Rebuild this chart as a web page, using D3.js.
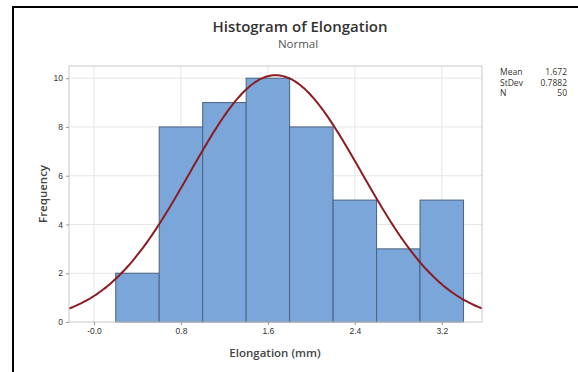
<!DOCTYPE html>
<meta charset="utf-8">
<script src="https://d3js.org/d3.v7.min.js"></script>
<style>
body { margin: 0; background: #fff; }
svg { font-family: "Open Sans", "Noto Sans", sans-serif; }
.grid line { stroke: #e6e6e6; stroke-width: 1px; }
.axis path { display: none; }
.axis line { stroke: #999; }
.axis text { font-size: 8.5px; fill: #333; }
</style>
<body></body>
<script>

// histogram bins (lower edges) and counts
var binStart = [0.2, 0.6, 1.0, 1.4, 1.8, 2.2, 2.6, 3.0];
var binWidth = 0.4;
var counts = [2, 8, 9, 10, 8, 5, 3, 5];

var xTicks = [0, 0.8, 1.6, 2.4, 3.2];
var xTickLabels = ['-0.0', '0.8', '1.6', '2.4', '3.2'];
var yTicks = [0, 2, 4, 6, 8, 10];

var statNames = ['Mean', 'StDev', 'N'];
var statValues = ['1.672', '0.7882', '50'];
var mean = 1.672, sd = 0.7882, n = 50;

var margin = {top: 66, left: 69};
var width = 482 - 69, height = 322 - 66;

var svg = d3.select('body').append('svg')
    .attr('width', 578)
    .attr('height', 372);

// black frame lines (left + top)
svg.append('line').attr('x1', 13).attr('x2', 13).attr('y1', 6).attr('y2', 372)
  .attr('stroke', '#000').attr('stroke-width', 2);
svg.append('line').attr('x1', 12).attr('x2', 578).attr('y1', 7).attr('y2', 7)
  .attr('stroke', '#000').attr('stroke-width', 2);

var g = svg.append('g')
    .attr('transform', 'translate(' + margin.left + ',' + margin.top + ')');

var xScale = d3.scaleLinear().domain([-0.23, 3.57]).range([0, width]);
var yScale = d3.scaleLinear().domain([0, 10.5]).range([height, 0]);

// grid
g.append('g').attr('class', 'grid')
  .selectAll('line.v').data(xTicks).enter().append('line')
  .attr('x1', d => xScale(d)).attr('x2', d => xScale(d))
  .attr('y1', 0).attr('y2', height);
g.append('g').attr('class', 'grid')
  .selectAll('line.h').data(yTicks.slice(1)).enter().append('line')
  .attr('x1', 0).attr('x2', width)
  .attr('y1', d => yScale(d)).attr('y2', d => yScale(d));

// bars
g.selectAll('.bar')
  .data(binStart).enter().append('rect')
  .attr('class', 'bar')
  .attr('x', d => xScale(d))
  .attr('width', d => xScale(d + binWidth) - xScale(d))
  .attr('y', (d, i) => yScale(counts[i]))
  .attr('height', (d, i) => height - yScale(counts[i]))
  .attr('fill', '#7ba6da')
  .attr('stroke', '#4a6281')
  .attr('stroke-width', 1);

// normal curve
var pts = d3.range(-0.23, 3.5701, 0.02);
var line = d3.line()
  .x(d => xScale(d))
  .y(d => yScale(n * binWidth * Math.exp(-0.5 * Math.pow((d - mean) / sd, 2)) / (sd * Math.sqrt(2 * Math.PI))))
  .curve(d3.curveBasis);
g.append('path').datum(pts)
  .attr('d', line)
  .attr('fill', 'none')
  .attr('stroke', '#8b1c22')
  .attr('stroke-width', 2);

// plot frame
g.append('rect')
  .attr('width', width).attr('height', height)
  .attr('fill', 'none').attr('stroke', '#c8c8c8');

// axes
g.append('g').attr('class', 'axis')
  .attr('transform', 'translate(0,' + height + ')')
  .call(d3.axisBottom(xScale).tickValues(xTicks).tickSize(3).tickPadding(3)
    .tickFormat((d, i) => xTickLabels[i]));

g.append('g').attr('class', 'axis')
  .call(d3.axisLeft(yScale).tickValues(yTicks).tickSize(3).tickPadding(3));

// titles
svg.append('text').attr('x', 300).attr('y', 32)
  .attr('text-anchor', 'middle').style('font-size', '15px').style('font-weight', 600)
  .style('fill', '#333').text('Histogram of Elongation');
svg.append('text').attr('x', 298).attr('y', 48)
  .attr('text-anchor', 'middle').style('font-size', '11.5px')
  .style('fill', '#555').text('Normal');

svg.append('text').attr('x', 275).attr('y', 357)
  .attr('text-anchor', 'middle').style('font-size', '11.5px').style('font-weight', 600)
  .style('fill', '#444').text('Elongation (mm)');

svg.append('text')
  .attr('transform', 'translate(47,194) rotate(-90)')
  .attr('text-anchor', 'middle').style('font-size', '11.5px').style('font-weight', 600)
  .style('fill', '#444').text('Frequency');

// stats table
var stats = svg.append('g').attr('transform', 'translate(500,75)');
stats.selectAll('.sn').data(statNames).enter().append('text')
  .attr('x', 0).attr('y', (d, i) => i * 10.5)
  .style('font-size', '8.5px').style('fill', '#333').text(d => d);
stats.selectAll('.sv').data(statValues).enter().append('text')
  .attr('x', 67).attr('y', (d, i) => i * 10.5)
  .attr('text-anchor', 'end')
  .style('font-size', '8.5px').style('fill', '#333').text(d => d);

</script>
